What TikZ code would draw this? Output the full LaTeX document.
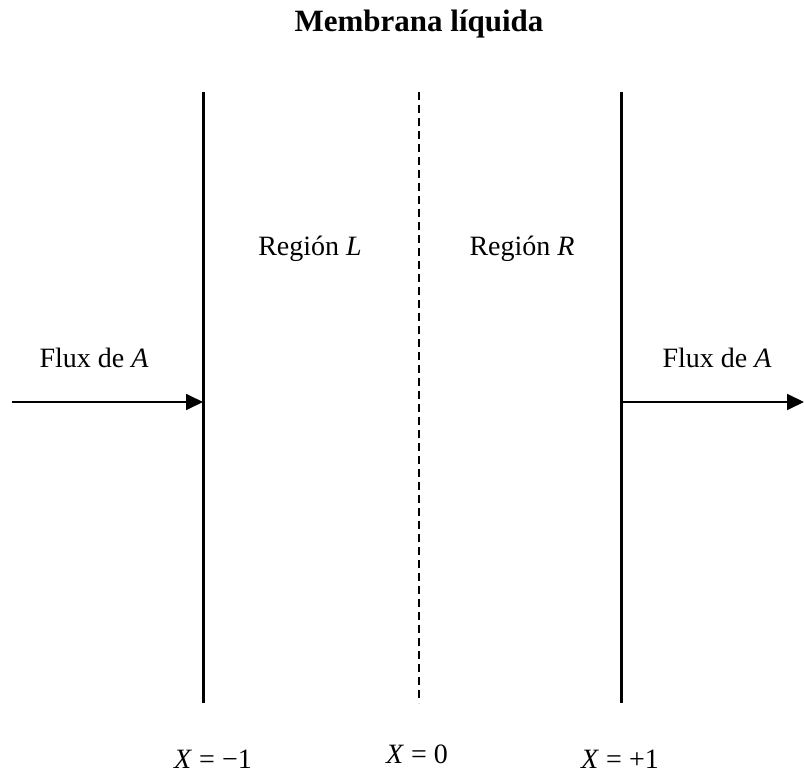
\documentclass[tikz,border=0pt]{standalone}
\usepackage{fontspec}
\setmainfont{Liberation Serif}
\usetikzlibrary{arrows.meta}

\begin{document}
\begin{tikzpicture}[
  x=1pt, y=-1pt,
  wall/.style={line width=3pt},
  mid/.style={line width=1.4pt, dash pattern=on 8pt off 5pt},
  arr/.style={line width=1.8pt, -{Triangle[length=17pt, width=16pt]}},
  lbl/.style={anchor=base, inner sep=0pt, font=\fontsize{28}{30}\selectfont},
  ttl/.style={anchor=base, inner sep=0pt, font=\fontsize{31}{33}\selectfont\bfseries}
]
\useasboundingbox (0,0) rectangle (804,773);

\node[ttl] (title) at (419,32) {Membrana líquida};

\coordinate (Ltop) at (203,92);
\coordinate (Lbot) at (203,703);
\coordinate (Mtop) at (419,92);
\coordinate (Mbot) at (419,703);
\coordinate (Rtop) at (621,92);
\coordinate (Rbot) at (621,703);
\coordinate (inL) at (12,402);
\coordinate (Lmid) at (203,402);
\coordinate (Rmid) at (621,402);
\coordinate (outR) at (804,402);

\draw[wall] (Ltop) -- (Lbot);
\draw[mid] (Mtop) -- (Mbot);
\draw[wall] (Rtop) -- (Rbot);

\node[lbl] (regL) at (310,255) {Región \textit{L}};
\node[lbl] (regR) at (522,255) {Región \textit{R}};
\node[lbl] (fluxL) at (94,367) {Flux de \textit{A}};
\node[lbl] (fluxR) at (717,367) {Flux de \textit{A}};

\draw[arr] (inL) -- (Lmid);
\draw[arr] (Rmid) -- (outR);

\node[lbl] (xL) at (213,768) {\textit{X} = −1};
\node[lbl] (xM) at (417,763) {\textit{X} = 0};
\node[lbl] (xR) at (620,768) {\textit{X} = +1};
\end{tikzpicture}
\end{document}
